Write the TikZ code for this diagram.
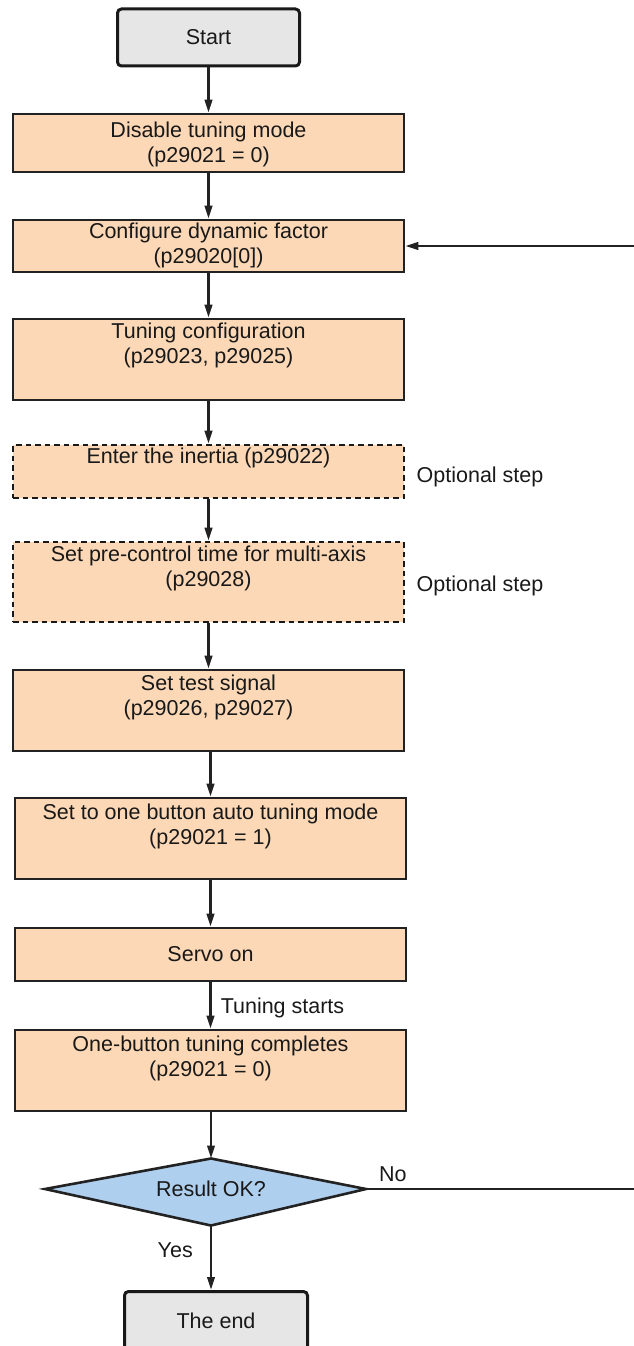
\documentclass[tikz,border=0pt]{standalone}
\usepackage{fontspec}
\setmainfont{Liberation Sans}
\usetikzlibrary{arrows.meta,calc}
\definecolor{peach}{HTML}{FCD8B6}
\definecolor{greyfill}{HTML}{E6E6E6}
\definecolor{bluefill}{HTML}{AFCFEE}
\definecolor{ink}{HTML}{222222}
\begin{document}
\begin{tikzpicture}[x=1pt,y=-1pt,
  every node/.style={font=\fontsize{21.5}{25.5}\selectfont, text=black!90},
  stepbox/.style={draw=ink, line width=2.6pt, fill=peach, inner sep=0pt, minimum width=391pt},
  optbox/.style={stepbox, draw=black!90, line width=2.8pt, dash pattern=on 5.5pt off 4pt},
  termbox/.style={draw=black!90, line width=3pt, fill=greyfill, rounded corners=4pt, inner sep=0pt},
  decbox/.style={draw=ink, line width=2.6pt, fill=bluefill},
  txt/.style={inner sep=0pt, align=center, anchor=north},
  side/.style={inner sep=0pt, anchor=base west},
  arr/.style={draw=ink, line width=2.5pt, -{Triangle[length=13pt,width=7.5pt]}},
  ln/.style={draw=ink, line width=2.5pt},
]
\useasboundingbox (0,0) rectangle (634,1346);
\clip (0,0) rectangle (634,1346);

\node[termbox, minimum width=182pt, minimum height=57pt] (start) at (208.5,37.5) {Start};

\node[stepbox, minimum height=58pt] (dis) at (208.5,143)
  [label={[txt, yshift=-9pt]north:{Disable tuning mode\\(p29021 = 0)}}] {};
\node[stepbox, minimum height=52pt] (cfg) at (208.5,246)
  [label={[txt, yshift=-4pt]north:{Configure dynamic factor\\(p29020[0])}}] {};
\node[stepbox, minimum height=81pt] (tc) at (208.5,359.5)
  [label={[txt, yshift=-5pt]north:{Tuning configuration\\(p29023, p29025)}}] {};
\node[optbox, minimum height=53pt] (inert) at (208.5,471.5)
  [label={[txt, yshift=-4pt]north:{Enter the inertia (p29022)}}] {};
\node[optbox, minimum height=80pt] (pre) at (208.5,582)
  [label={[txt, yshift=-5pt]north:{Set pre-control time for multi-axis\\(p29028)}}] {};
\node[stepbox, minimum height=81pt] (sig) at (208.5,710.5)
  [label={[txt, yshift=-6pt]north:{Set test signal\\(p29026, p29027)}}] {};
\node[stepbox, minimum height=81pt] (one) at (210.5,838.5)
  [label={[txt, yshift=-7pt]north:{Set to one button auto tuning mode\\(p29021 = 1)}}] {};
\node[stepbox, minimum height=53pt] (servo) at (210.5,954.5) {Servo on};
\node[stepbox, minimum height=81pt] (otc) at (210.5,1070.5)
  [label={[txt, yshift=-7pt]north:{One-button tuning completes\\(p29021 = 0)}}] {};

\coordinate (dl) at (45,1189);
\coordinate (dt) at (211,1158.5);
\coordinate (dr) at (366,1189);
\coordinate (db) at (211,1225.5);
\draw[decbox] (dl) -- (dt) -- (dr) -- (db) -- cycle;
\node[inner sep=0pt] (dec) at (211,1189) {Result OK?};

\node[termbox, minimum width=183pt, minimum height=90pt] (theend) at (216,1336.5)
  [label={[inner sep=0pt, anchor=center, yshift=-30.5pt]north:{The end}}] {};

\node[side] (opt1) at (416.5,482.7) {Optional step};
\node[side] (opt2) at (416.5,591.7) {Optional step};

\coordinate (fb) at (634,246);
\coordinate (noend) at (634,1189);

\draw[arr] (start) -- (dis);
\draw[arr] (dis) -- (cfg);
\draw[arr] (cfg) -- (tc);
\draw[arr] (tc) -- (inert);
\draw[arr] (inert) -- (pre);
\draw[arr] (pre) -- (sig);
\draw[arr] (sig.south -| one.north) -- (one.north);
\draw[arr] (one) -- (servo);
\draw[arr] (servo) -- node[side, pos=0.5, xshift=9pt, yshift=-7.7pt] (ts) {Tuning starts} (otc);
\draw[arr] (otc.south -| dt) -- (dt);
\draw[arr] (db) -- (db |- theend.north);
\node[inner sep=0pt, anchor=base east] (yes) at (193,1257.7) {Yes};
\draw[ln] (dr) -- (noend);
\node[side] (no) at (379,1181.7) {No};
\draw[arr] (fb) -- (cfg.east);
\end{tikzpicture}
\end{document}
